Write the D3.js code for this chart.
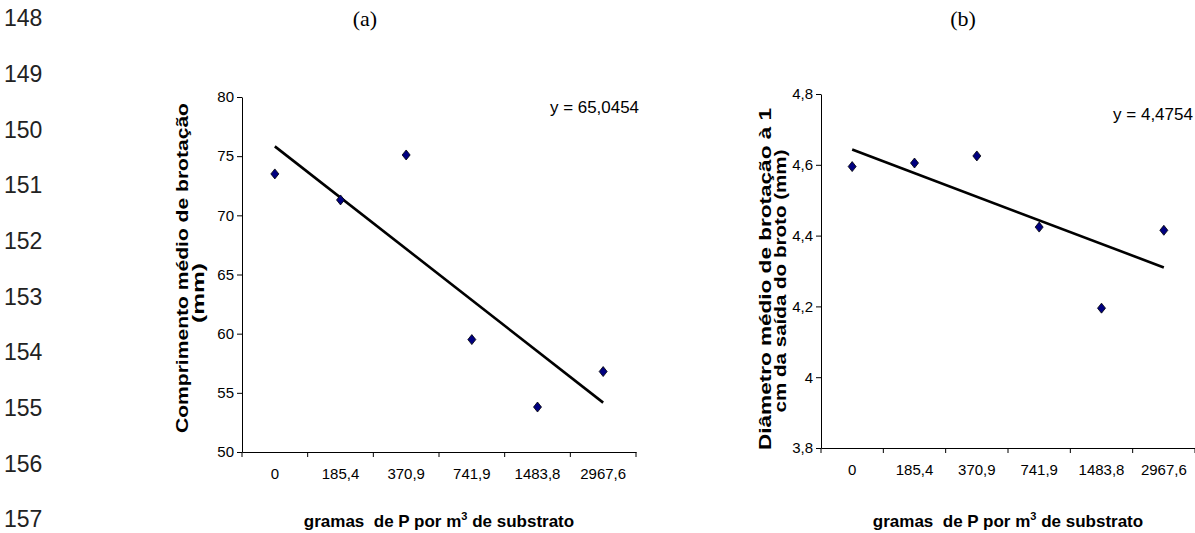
<!DOCTYPE html>
<html>
<head>
<meta charset="utf-8">
<script src="https://cdn.jsdelivr.net/npm/d3@7"></script>
<style>
    body { margin: 0; background: #fff; }
    svg { display: block; }
    .tick text { font-family: "Liberation Sans Narrow", "Liberation Sans", Arial, sans-serif; font-size: 15px; fill: #000; }
    .domain, .tick line { stroke: #000; stroke-width: 1px; }
    .ytitle { font-family: "Liberation Sans", Arial, sans-serif; font-weight: bold; font-size: 16px; }
    .xtitle { font-family: "Liberation Sans Narrow", "Liberation Sans", Arial, sans-serif; font-weight: bold; font-size: 17px; white-space: pre; }
    .eq { font-family: "Liberation Sans Narrow", "Liberation Sans", Arial, sans-serif; font-size: 17px; }
    .lineno { font-family: "Liberation Sans", Arial, sans-serif; font-size: 23px; fill: #222; }
    .panel { font-family: "Liberation Serif", "Times New Roman", serif; font-size: 22px; }
</style>
</head>
<body>
<div id="chart"></div>
<script>
var width = 1195, height = 533;

// data
var categories = ["0", "185,4", "370,9", "741,9", "1483,8", "2967,6"];
var comprimento = [73.5, 71.3, 75.1, 59.5, 53.8, 56.8];
var diametro = [4.595, 4.605, 4.625, 4.424, 4.195, 4.415];
var ticksA = [50, 55, 60, 65, 70, 75, 80];
var ticksB = [3.8, 4.0, 4.2, 4.4, 4.6, 4.8];
var lineNumbers = ["148", "149", "150", "151", "152", "153", "154", "155", "156", "157"];

var svg = d3.select("#chart").append("svg")
    .attr("width", width)
    .attr("height", height);

// manuscript line numbers
var yLines = d3.scalePoint().domain(lineNumbers).range([18, 519]);
svg.selectAll(".lineno")
    .data(lineNumbers)
  .enter().append("text")
    .attr("class", "lineno")
    .attr("x", 4)
    .attr("y", function(d) { return yLines(d); })
    .attr("dy", "0.36em")
    .text(function(d) { return d; });

function fmt(d) {
    return String(+d.toFixed(1)).replace(".", ",");
}

function drawPanel(p) {
    var g = svg.append("g");

    var x = d3.scaleBand().domain(categories).range([p.x0, p.x1]);
    var y = d3.scaleLinear().domain(p.domain).range([p.yBot, p.yTop]);

    // y axis
    g.append("g")
        .attr("transform", "translate(" + p.x0 + ",0)")
        .call(d3.axisLeft(y).tickValues(p.ticks).tickSize(5).tickSizeOuter(0).tickPadding(3).tickFormat(fmt));

    // x axis: labels in band centres, ticks on band edges
    var xa = g.append("g")
        .attr("transform", "translate(0," + p.yBot + ")")
        .call(d3.axisBottom(x).tickSize(0).tickSizeOuter(0).tickPadding(16));
    var edges = categories.map(function(c) { return x(c); }).concat([p.x1]);
    xa.selectAll(".edge")
        .data(edges)
      .enter().append("line")
        .attr("x1", function(d) { return d; })
        .attr("x2", function(d) { return d; })
        .attr("y1", 0)
        .attr("y2", 5)
        .attr("stroke", "#000");

    // trend line (least squares on category index)
    var n = p.values.length;
    var xs = d3.range(1, n + 1);
    var mx = d3.mean(xs), my = d3.mean(p.values);
    var b = d3.sum(xs, function(v, i) { return (v - mx) * (p.values[i] - my); }) /
            d3.sum(xs, function(v) { return (v - mx) * (v - mx); });
    var a = my - b * mx;
    var cx = function(i) { return x(categories[i]) + x.bandwidth() / 2; };
    g.append("line")
        .attr("x1", cx(0))
        .attr("y1", y(a + b * 1))
        .attr("x2", cx(n - 1))
        .attr("y2", y(a + b * n))
        .attr("stroke", "#000")
        .attr("stroke-width", 2.6);

    // markers
    g.selectAll(".pt")
        .data(p.values)
      .enter().append("path")
        .attr("class", "pt")
        .attr("d", "M0,-5L4,0L0,5L-4,0Z")
        .attr("transform", function(d, i) { return "translate(" + cx(i) + "," + y(d) + ")"; })
        .attr("fill", "#000080")
        .attr("stroke", "#000")
        .attr("stroke-width", 0.8);

    // equation label
    g.append("text")
        .attr("class", "eq")
        .attr("x", p.eqX)
        .attr("y", p.eqY)
        .attr("textLength", p.eqW)
        .attr("lengthAdjust", "spacingAndGlyphs")
        .text(p.eq);

    // y title (two lines)
    p.ytitle.forEach(function(t, i) {
        var tx = g.append("text")
            .attr("class", "ytitle")
            .attr("text-anchor", "middle")
            .attr("dy", "0.35em")
            .attr("transform", "translate(" + p.ytX[i] + "," + p.ytY[i] + ") rotate(-90)")
            .text(t);
        if (p.ytLen[i]) tx.attr("textLength", p.ytLen[i]).attr("lengthAdjust", "spacingAndGlyphs");
    });

    // x title
    var xt = g.append("text")
        .attr("class", "xtitle")
        .attr("text-anchor", "middle")
        .attr("x", (p.x0 + p.x1) / 2)
        .attr("y", 527);
    xt.append("tspan").text("gramas  de P por m");
    xt.append("tspan").attr("dy", -7).attr("font-size", "11px").text("3");
    xt.append("tspan").attr("dy", 7).text(" de substrato");

    // panel letter
    g.append("text")
        .attr("class", "panel")
        .attr("text-anchor", "middle")
        .attr("x", p.titleX)
        .attr("y", 26)
        .text(p.title);
}

drawPanel({
    x0: 242, x1: 636, yTop: 97, yBot: 452,
    domain: [50, 80], ticks: ticksA, values: comprimento,
    eq: "y = 65,0454", eqX: 550, eqY: 113, eqW: 89,
    ytitle: ["Comprimento médio de brotação", "(mm)"],
    ytX: [182, 198], ytY: [268, 293], ytLen: [330, 60],
    title: "(a)", titleX: 365
});

drawPanel({
    x0: 821, x1: 1195, yTop: 94, yBot: 448,
    domain: [3.8, 4.8], ticks: ticksB, values: diametro,
    eq: "y = 4,4754", eqX: 1113, eqY: 120, eqW: 80,
    ytitle: ["Diâmetro médio de brotação à 1", "cm da saída do broto (mm)"],
    ytX: [765, 780], ytY: [279, 281], ytLen: [342, 263],
    title: "(b)", titleX: 963
});
</script>
</body>
</html>
